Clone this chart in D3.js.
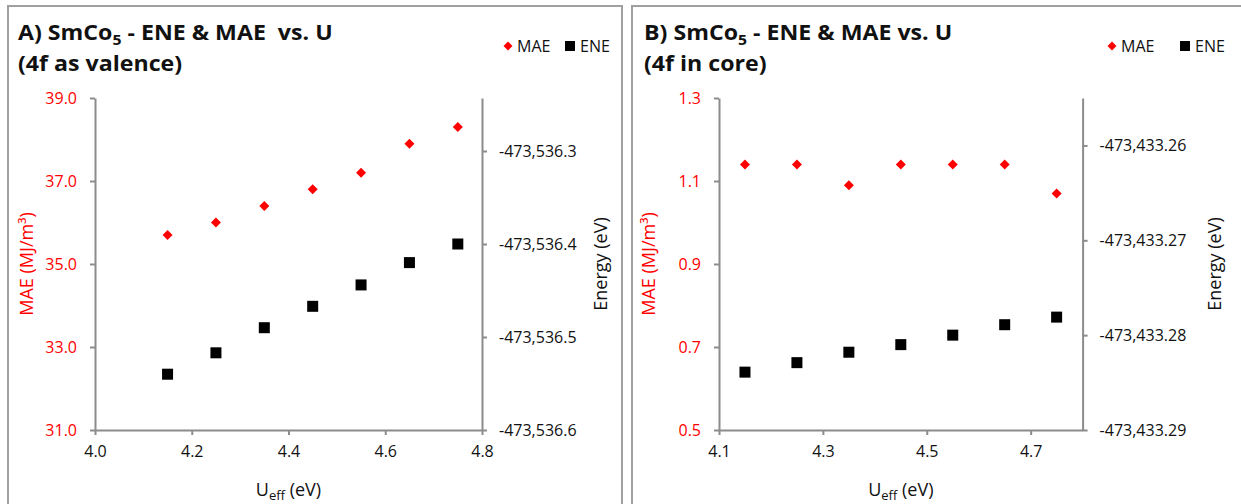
<!DOCTYPE html>
<html>
<head>
<meta charset="utf-8">
<script src="https://cdnjs.cloudflare.com/ajax/libs/d3/7.8.5/d3.min.js"></script>
<style>
  body { margin: 0; background: #fff; }
  svg { display: block; }
  text { font-family: "Open Sans", "Liberation Sans", sans-serif; white-space: pre; }
</style>
</head>
<body>
<div id="chart"></div>
<script>
var width = 1241,
    height = 504;

// data
var ueff = [4.15, 4.25, 4.35, 4.45, 4.55, 4.65, 4.75];

var maeA = [35.7, 36.0, 36.4, 36.8, 37.2, 37.9, 38.3];
var eneA = [-473536.540, -473536.517, -473536.490, -473536.467, -473536.444, -473536.420, -473536.400];

var maeB = [1.14, 1.14, 1.09, 1.14, 1.14, 1.14, 1.07];
var eneB = [-473433.2839, -473433.2829, -473433.2818, -473433.2810, -473433.2800, -473433.2789, -473433.2781];

// axis ranges and tick labels
var xTicksA = [4.0, 4.2, 4.4, 4.6, 4.8];
var maeTicksA = [31, 33, 35, 37, 39];
var eneTicksA = [-473536.6, -473536.5, -473536.4, -473536.3];
var eneMaxA = -473536.243;

var xTicksB = [4.1, 4.3, 4.5, 4.7];
var xMaxB = 4.8;
var maeTicksB = [0.5, 0.7, 0.9, 1.1, 1.3];
var eneTicksB = [-473433.29, -473433.28, -473433.27, -473433.26];
var eneMaxB = -473433.255;

var locale = d3.formatLocale({decimal: ".", thousands: ",", grouping: [3], currency: ["", ""], minus: "-"});

var svg = d3.select("#chart").append("svg")
    .attr("width", width)
    .attr("height", height);

var axisGray = "#8c8c8c";

function drawPanel(p) {
  // outer frame
  svg.append("rect")
      .attr("x", p.frame[0]).attr("y", p.frame[1])
      .attr("width", p.frame[2]).attr("height", p.frame[3])
      .attr("fill", "none").attr("stroke", "#a0a0a0").attr("stroke-width", 2);

  var x = d3.scaleLinear().domain(p.xDomain).range([p.left, p.right]);
  var yL = d3.scaleLinear().domain(p.maeDomain).range([p.bottom, p.top]);
  var yR = d3.scaleLinear().domain(p.eneDomain).range([p.bottom, p.top]);

  var g = svg.append("g");

  // title (stretched a bit wider like the original)
  var tg = g.append("g").attr("transform", "translate(" + p.titleX + ",0) scale(1.13,1)");
  var t = tg.append("text")
      .attr("x", 0).attr("y", 40)
      .attr("font-size", "20.5px").attr("font-weight", "bold").attr("fill", "#111");
  t.append("tspan").text(p.title[0]);
  t.append("tspan").attr("font-size", "14px").attr("dy", 5).text("5");
  t.append("tspan").attr("dy", -5).text(p.title[1]);
  tg.append("text")
      .attr("x", 0).attr("y", 71)
      .attr("font-size", "20.5px").attr("font-weight", "bold").attr("fill", "#111")
      .text(p.title[2]);

  // axes
  var xAxis = d3.axisBottom(x).tickValues(p.xTicks).tickSize(5).tickPadding(11)
      .tickSizeOuter(0).tickFormat(d3.format(".1f"));
  var lAxis = d3.axisLeft(yL).tickValues(p.maeTicks).tickSize(5).tickPadding(13)
      .tickSizeOuter(0).tickFormat(d3.format(".1f"));
  var rAxis = d3.axisRight(yR).tickValues(p.eneTicks).tickSize(5).tickPadding(12)
      .tickSizeOuter(0).tickFormat(locale.format(p.eneFmt));

  var gx = g.append("g").attr("transform", "translate(0," + p.bottom + ")").call(xAxis);
  var gl = g.append("g").attr("transform", "translate(" + p.left + ",0)").call(lAxis);
  var gr = g.append("g").attr("transform", "translate(" + p.right + ",0)").call(rAxis);

  [gx, gl, gr].forEach(function(a) {
    a.selectAll("path, line").attr("stroke", axisGray).attr("stroke-width", 2);
    a.selectAll("text").attr("font-size", "16px").attr("font-family", "Open Sans").attr("fill", "#111");
  });
  gl.selectAll("text").attr("fill", "#ff0000");

  // axis titles
  g.append("text")
      .attr("transform", "translate(" + p.maeLabelX + "," + ((p.top + p.bottom) / 2) + ") rotate(-90)")
      .attr("text-anchor", "middle").attr("font-size", "18px").attr("fill", "#ff0000")
      .text("MAE (MJ/m³)");
  g.append("text")
      .attr("transform", "translate(" + p.eneLabelX + "," + ((p.top + p.bottom) / 2) + ") rotate(-90)")
      .attr("text-anchor", "middle").attr("font-size", "18px").attr("fill", "#111")
      .text("Energy (eV)");
  var xl = g.append("text")
      .attr("x", (p.left + p.right) / 2).attr("y", 496)
      .attr("text-anchor", "middle").attr("font-size", "18px").attr("fill", "#111");
  xl.append("tspan").text("U");
  xl.append("tspan").attr("font-size", "13px").attr("dy", 4).text("eff");
  xl.append("tspan").attr("dy", -4).text(" (eV)");

  // markers
  var diamond = d3.symbol().type(d3.symbolSquare).size(50);
  g.selectAll(".ene")
      .data(d3.zip(ueff, p.ene))
      .enter().append("rect")
      .attr("x", function(d) { return x(d[0]) - 5.5; })
      .attr("y", function(d) { return yR(d[1]) - 5.5; })
      .attr("width", 11).attr("height", 11)
      .attr("fill", "#000");
  g.selectAll(".mae")
      .data(d3.zip(ueff, p.mae))
      .enter().append("path")
      .attr("d", diamond)
      .attr("transform", function(d) { return "translate(" + x(d[0]) + "," + yL(d[1]) + ") rotate(45)"; })
      .attr("fill", "#ff0000");

  // legend
  var lg = g.append("g").attr("transform", "translate(0,46)");
  lg.append("path").attr("d", d3.symbol().type(d3.symbolSquare).size(40))
      .attr("transform", "translate(" + p.legend[0] + ",0) rotate(45)").attr("fill", "#ff0000");
  lg.append("text").attr("x", p.legend[0] + 9).attr("y", 6)
      .attr("font-size", "16px").attr("fill", "#111").text("MAE");
  lg.append("rect").attr("x", p.legend[1] - 5).attr("y", -5).attr("width", 10).attr("height", 10)
      .attr("fill", "#000");
  lg.append("text").attr("x", p.legend[1] + 10).attr("y", 6)
      .attr("font-size", "16px").attr("fill", "#111").text("ENE");
}

drawPanel({
  frame: [8, 6, 614, 600],
  left: 95, right: 482, top: 98, bottom: 430,
  xDomain: [4.0, 4.8], xTicks: xTicksA,
  maeDomain: [31, 39], maeTicks: maeTicksA,
  eneDomain: [eneTicksA[0], eneMaxA], eneTicks: eneTicksA, eneFmt: ",.1f",
  mae: maeA, ene: eneA,
  title: ["A) SmCo", " - ENE & MAE  vs. U", "(4f as valence)"], titleX: 18,
  maeLabelX: 33, eneLabelX: 607,
  legend: [508, 570]
});

drawPanel({
  frame: [632, 6, 700, 600],
  left: 719, right: 1082.6, top: 98, bottom: 430,
  xDomain: [4.1, xMaxB], xTicks: xTicksB,
  maeDomain: [0.5, 1.3], maeTicks: maeTicksB,
  eneDomain: [eneTicksB[0], eneMaxB], eneTicks: eneTicksB, eneFmt: ",.2f",
  mae: maeB, ene: eneB,
  title: ["B) SmCo", " - ENE & MAE vs. U", "(4f in core)"], titleX: 644,
  maeLabelX: 655, eneLabelX: 1221,
  legend: [1112, 1185]
});
</script>
</body>
</html>
